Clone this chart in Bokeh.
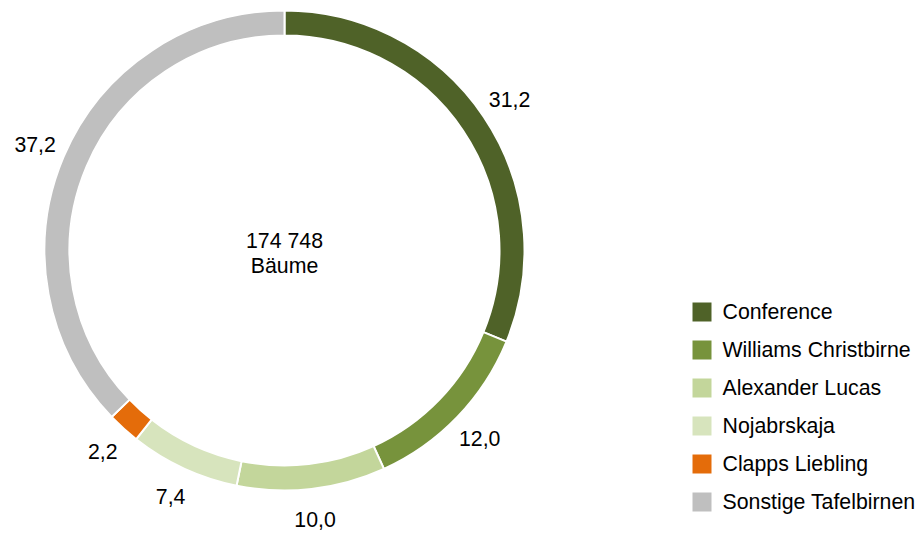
import math
from bokeh.plotting import figure
from bokeh.models import Range1d, ColumnDataSource
from bokeh.core.properties import value
from bokeh.embed import file_html
from bokeh.resources import INLINE

categories = ["Conference", "Williams Christbirne", "Alexander Lucas",
              "Nojabrskaja", "Clapps Liebling", "Sonstige Tafelbirnen"]
shares = [31.2, 12.0, 10.0, 7.4, 2.2, 37.2]
labels = ["31,2", "12,0", "10,0", "7,4", "2,2", "37,2"]
colors = ["#4f6228", "#77933c", "#c3d69b", "#d7e4bd", "#e46c0a", "#bfbfbf"]
center_text = ["174 748", "Bäume"]

W, H = 921, 535
FONT = value("Liberation Sans")
FS = "21.3px"

p = figure(width=W, height=H, output_backend="svg", toolbar_location=None,
           x_range=Range1d(0, W), y_range=Range1d(0, H),
           min_border=0)
p.axis.visible = False
p.grid.visible = False
p.outline_line_color = None
p.background_fill_color = "white"
p.border_fill_color = "white"

def sy(y):
    return H - y

cx, cy = 284, sy(250)
r_out, r_in, r_lab = 240, 215, 271

total = sum(shares)
starts, ends, mids = [], [], []
cum = 0.0
for s in shares:
    a0 = math.pi / 2 - 2 * math.pi * cum / total
    cum += s
    a1 = math.pi / 2 - 2 * math.pi * cum / total
    starts.append(a0)
    ends.append(a1)
    mids.append((a0 + a1) / 2)

src = ColumnDataSource(dict(start=starts, end=ends, color=colors,
                            x=[cx] * len(shares), y=[cy] * len(shares)))
p.annular_wedge(x="x", y="y", inner_radius=r_in, outer_radius=r_out,
                start_angle="start", end_angle="end", direction="clock",
                fill_color="color", line_color="white", line_width=2,
                source=src)

lab = ColumnDataSource(dict(
    x=[cx + r_lab * math.cos(m) for m in mids],
    y=[cy + r_lab * math.sin(m) for m in mids],
    t=labels))
p.text(x="x", y="y", text="t", source=lab, text_font=FONT,
       text_font_size=FS, text_align="center", text_baseline="middle",
       text_color="#000000")

p.text(x=[cx, cx], y=[sy(240), sy(265)], text=center_text, text_font=FONT,
       text_font_size=FS, text_align="center", text_baseline="middle",
       text_color="#000000")

# legend
lx, ly0, dy = 701.5, 311.5, 38
leg = ColumnDataSource(dict(
    x=[lx] * len(categories),
    y=[sy(ly0 + i * dy) for i in range(len(categories))],
    tx=[722] * len(categories),
    c=colors, t=categories))
p.rect(x="x", y="y", width=19, height=19, fill_color="c", line_color=None,
       source=leg)
p.text(x="tx", y="y", text="t", source=leg, text_font=FONT,
       text_font_size=FS, text_align="left", text_baseline="middle",
       text_color="#000000")

open("out.html", "w").write(file_html(p, INLINE))
